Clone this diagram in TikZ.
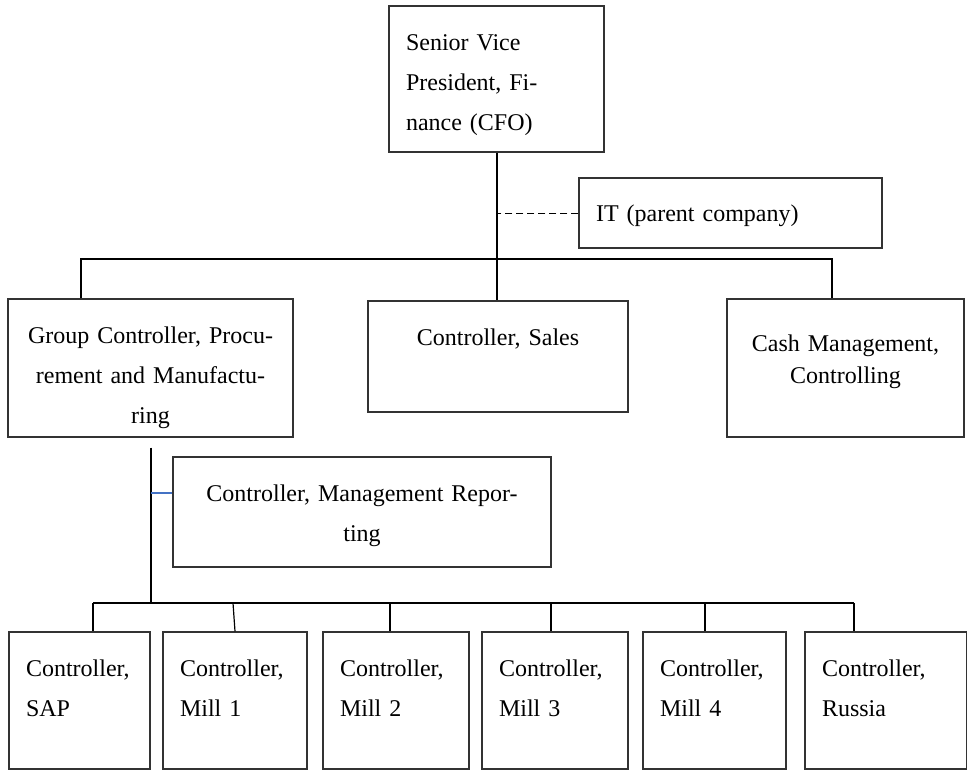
\documentclass[tikz,border=0pt]{standalone}
\usepackage{fontspec}
\setmainfont{Liberation Serif}
\usepackage{tikz}

\definecolor{linkblue}{RGB}{68,114,196}

\begin{document}
\begin{tikzpicture}[
  x=1pt, y=-1pt,
  box/.style={draw=black!80, line width=0.6pt, inner xsep=8.5pt, inner ysep=0pt,
    font=\fontsize{12}{20}\selectfont},
  textpad/.style 2 args={execute at begin node={\rule{0pt}{#1}},
    execute at end node={\rule[-#2]{0pt}{0pt}}},
  unit/.style={box, align=left, minimum height=68.5pt, textpad={9pt}{13.1pt}},
  link/.style={line width=1pt}
]
  \useasboundingbox (0,0) rectangle (483.5,385.5);

  % top level
  \node[box, align=left, text width=90.5pt, minimum height=73pt, textpad={14.4pt}{3pt}]
    (cfo) at (248.25,39.5) {Senior Vice\\President, Fi-\\nance (CFO)};
  \node[box, align=left, text width=134.5pt, minimum height=35pt, textpad={11.4pt}{3pt}]
    (it) at (365.25,106.5) {IT (parent company)};

  % second level
  \node[box, align=center, text width=125.5pt, minimum height=69pt, textpad={18.4pt}{3pt}]
    (group) at (75.25,184) {Group Controller, Procu-\\rement and Manufactu-\\ring};
  \node[box, align=center, text width=113pt, minimum height=55.5pt, textpad={9pt}{20.1pt}]
    (sales) at (249,178.25) {Controller, Sales};
  \node[box, align=center, text width=101.5pt, minimum height=69pt, textpad={9pt}{9.6pt},
    font=\fontsize{12}{16}\selectfont]
    (cash) at (422.75,184) {Cash Management,\\Controlling};
  \node[box, align=center, text width=172pt, minimum height=55pt, textpad={12.4pt}{3pt}]
    (mgmt) at (181,256) {Controller, Management Repor-\\ting};

  % controllers
  \node[unit, text width=53.5pt] (sap)    at (39.75,350.25)  {Controller,\\SAP};
  \node[unit, text width=55pt]   (mill1)  at (117.5,350.25)  {Controller,\\Mill 1};
  \node[unit, text width=56pt]   (mill2)  at (198,350.25)    {Controller,\\Mill 2};
  \node[unit, text width=56pt]   (mill3)  at (277.5,350.25)  {Controller,\\Mill 3};
  \node[unit, text width=54.5pt] (mill4)  at (357.25,350.25) {Controller,\\Mill 4};
  \node[unit, text width=64pt]   (russia) at (443,350.25)    {Controller,\\Russia};

  \coordinate (busl) at (40.5,129.5);
  \coordinate (busr) at (416,129.5);
  \coordinate (t1) at (46.5,301.5);
  \coordinate (t2) at (116.5,301.5);
  \coordinate (t3) at (195,301.5);
  \coordinate (t4) at (275.5,301.5);
  \coordinate (t5) at (352.5,301.5);
  \coordinate (t6) at (427,301.5);

  \draw[link] (cfo.south) -- (cfo.south |- sales.north);
  \draw[dashed, dash pattern=on 3.5pt off 2pt, line width=0.5pt] (it.west) -- (it.west -| cfo.south);
  \draw[link] (busl |- group.north) -- (busl) -- (busr) -- (busr |- cash.north);

  \draw[link] ([yshift=-5pt]group.south) -- (group.south |- t1);
  \draw[linkblue, line width=0.6pt] ([yshift=9.5pt]mgmt.west) -- ([yshift=9.5pt]mgmt.west -| group.south);
  \draw[link] (t1) -- (t6);
  \draw[link] (t1) -- (t1 |- sap.north);
  \draw[line width=0.6pt] (t2) -- (mill1.north);
  \draw[link] (t3) -- (t3 |- mill2.north);
  \draw[link] (t4) -- (t4 |- mill3.north);
  \draw[link] (t5) -- (t5 |- mill4.north);
  \draw[link] (t6) -- (t6 |- russia.north);
\end{tikzpicture}
\end{document}
